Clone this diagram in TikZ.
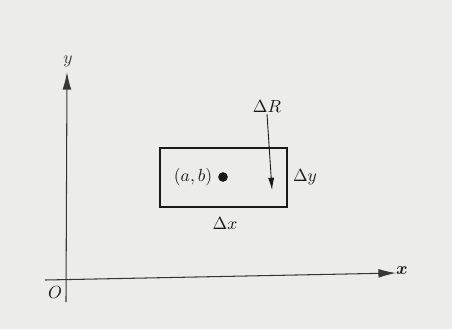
\documentclass[tikz,border=0pt]{standalone}
\usepackage{amsmath,amssymb,bm}
\usepackage{xcolor}
\usepackage{tikz}
\usetikzlibrary{arrows.meta, positioning, calc}
\definecolor{PaperGray}{RGB}{236, 236, 234}
\definecolor{InkBlack}{RGB}{25, 25, 25}
\definecolor{AxisGray}{RGB}{55, 55, 55}
\tikzset{
  axis/.style={line width=0.6pt, color=AxisGray, -{Latex[length=10pt, width=5pt]}},
  region/.style={draw=InkBlack, line width=1.3pt},
  arr/.style={line width=0.5pt, color=InkBlack, -{Latex[length=7pt, width=3.5pt]}},
  lbl/.style={font=\normalsize, text=InkBlack, inner sep=1pt},
  dot/.style={circle, fill=InkBlack, inner sep=0pt, minimum size=5.5pt},
}
\begin{document}
\begin{tikzpicture}[x=0.02cm, y=-0.02cm]
  \fill[PaperGray] (0,0) rectangle (452,329);
  \useasboundingbox (0,0) rectangle (452,329);
  % axes
  \coordinate (xs) at (45,280);
  \coordinate (xe) at (396,273);
  \coordinate (ys) at (66,302);
  \coordinate (ye) at (67,72);
  \draw[axis] (xs) -- (xe);
  \draw[axis] (ys) -- (ye);
  \node[lbl] (xl) at (402,271) {$\bm{x}$};
  \node[lbl, text=AxisGray] (yl) at (68,61) {$y$};
  \node[lbl] (ol) at (55,292) {$O$};
  % the small rectangle
  \draw[region] (160,148) rectangle (287,207);
  \node[dot] (pt) at (223,177) {};
  \node[lbl, left=2pt of pt] (ab) {$(a,b)$};
  \node[lbl] (dy) at (305,177) {$\Delta y$};
  \node[lbl] (dx) at (225,223) {$\Delta x$};
  \node[lbl] (dR) at (267,106) {$\Delta R$};
  \coordinate (dRe) at (272,190);
  \draw[arr] (dR.south) -- (dRe);
\end{tikzpicture}
\end{document}
